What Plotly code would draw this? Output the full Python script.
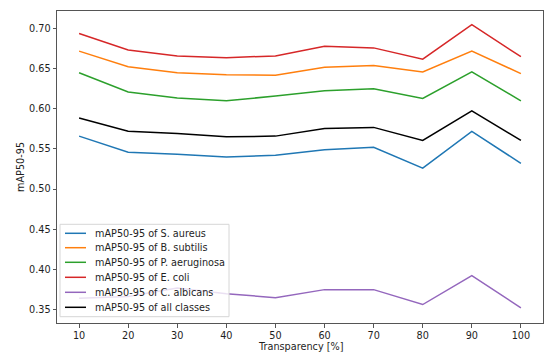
import plotly.graph_objects as go

transparency = [10, 20, 30, 40, 50, 60, 70, 80, 90, 100]

s_aureus = [0.566, 0.546, 0.5435, 0.540, 0.542, 0.549, 0.552, 0.526, 0.572, 0.532]
b_subtilis = [0.672, 0.6525, 0.645, 0.6425, 0.642, 0.652, 0.654, 0.646, 0.672, 0.644]
p_aeruginosa = [0.645, 0.621, 0.6135, 0.610, 0.616, 0.6225, 0.625, 0.613, 0.646, 0.610]
e_coli = [0.694, 0.6735, 0.666, 0.6638, 0.666, 0.678, 0.676, 0.662, 0.705, 0.665]
c_albicans = [0.364, 0.366, 0.3765, 0.3696, 0.3646, 0.3746, 0.3746, 0.356, 0.392, 0.352]
all_classes = [0.5885, 0.572, 0.5694, 0.5651, 0.566, 0.5756, 0.5769, 0.5606, 0.5976, 0.5606]

series_names = [
    "mAP50-95 of S. aureus",
    "mAP50-95 of B. subtilis",
    "mAP50-95 of P. aeruginosa",
    "mAP50-95 of E. coli",
    "mAP50-95 of C. albicans",
    "mAP50-95 of all classes",
]
series_values = [s_aureus, b_subtilis, p_aeruginosa, e_coli, c_albicans, all_classes]
colors = ["#1f77b4", "#ff7f0e", "#2ca02c", "#d62728", "#9467bd", "#000000"]

x_ticks = [10, 20, 30, 40, 50, 60, 70, 80, 90, 100]
y_ticks = [0.35, 0.40, 0.45, 0.50, 0.55, 0.60, 0.65, 0.70]

W, H = 550, 358
L, R, T, B = 57, 7, 11, 35
PW, PH = W - L - R, H - T - B
FS = 9.7
TXT = "#1e1e1e"
SPINE = "#555555"


def px(xp):
    return (xp - L) / PW


def py(yp):
    return (H - B - yp) / PH


fig = go.Figure()
for name, vals, c in zip(series_names, series_values, colors):
    fig.add_trace(go.Scatter(x=transparency, y=vals, mode="lines", name=name,
                             line=dict(color=c, width=1.5), showlegend=False))

axis_common = dict(showline=True, linecolor=SPINE, linewidth=1, mirror=True,
                   ticks="outside", ticklen=3.5, tickcolor=SPINE, showgrid=False,
                   zeroline=False, automargin=False, tickfont=dict(size=FS, color=TXT))

shapes = []
annotations = []

# legend box (matplotlib style, drawn manually)
shapes.append(dict(type="rect", xref="paper", yref="paper",
                   x0=px(60), x1=px(229), y0=py(316.7), y1=py(224.3),
                   line=dict(color="#d6d6d6", width=1),
                   fillcolor="rgba(255,255,255,0.8)", layer="above"))
row_y = [233.3, 247.7, 262.3, 277.3, 292.3, 307.3]
for name, c, ry in zip(series_names, colors, row_y):
    shapes.append(dict(type="line", xref="paper", yref="paper",
                       x0=px(65), x1=px(86), y0=py(ry), y1=py(ry),
                       line=dict(color=c, width=1.5), layer="above"))
    annotations.append(dict(text=name, xref="paper", yref="paper",
                            x=px(92.5), y=py(ry), xanchor="left", yanchor="middle",
                            showarrow=False, font=dict(size=FS, color=TXT)))

# axis titles
annotations.append(dict(text="Transparency [%]", xref="paper", yref="paper",
                        x=0.5, y=py(346.5), xanchor="center", yanchor="middle",
                        showarrow=False, font=dict(size=FS, color=TXT)))
annotations.append(dict(text="mAP50-95", xref="paper", yref="paper",
                        x=px(20), y=0.5, xanchor="center", yanchor="middle",
                        textangle=-90, showarrow=False, font=dict(size=FS, color=TXT)))

fig.update_layout(
    width=W, height=H,
    margin=dict(l=L, r=R, t=T, b=B),
    paper_bgcolor="white", plot_bgcolor="white",
    font=dict(family="DejaVu Sans", size=FS, color=TXT),
    xaxis=dict(range=[5.5, 104.5], tickvals=x_ticks, **axis_common),
    yaxis=dict(range=[0.333, 0.722], tickvals=y_ticks, tickformat=".2f", **axis_common),
    shapes=shapes,
    annotations=annotations,
    showlegend=False,
)

fig.write_html("out.html",
               config={"displayModeBar": False},
               post_script="document.body.style.margin='0';document.body.style.padding='0';")
